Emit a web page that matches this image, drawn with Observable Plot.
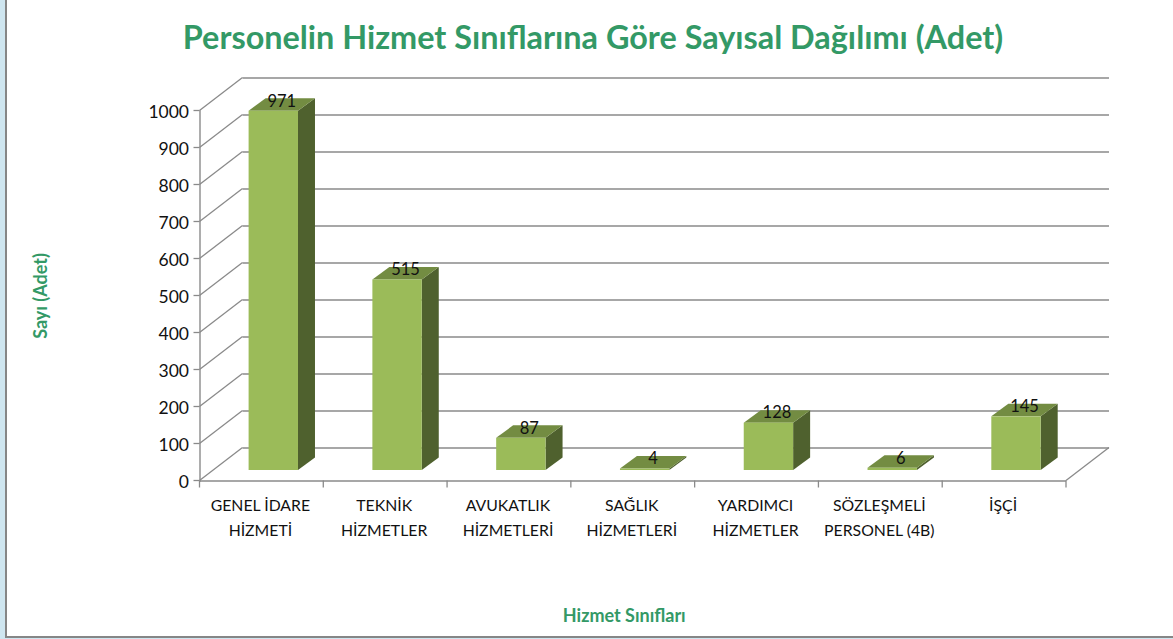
<!DOCTYPE html>
<html lang="tr">
<head>
<meta charset="utf-8">
<script src="https://cdn.jsdelivr.net/npm/d3@7"></script>
<script src="https://cdn.jsdelivr.net/npm/@observablehq/plot@0.6"></script>
<style>
html,body{margin:0;padding:0;background:#fff;width:1173px;height:639px;overflow:hidden;font-family:Lato,sans-serif}
#title{height:72px;line-height:74px;width:1173px;text-align:center;box-sizing:border-box;padding-left:13px;font-size:32.4px;font-weight:700;color:#339966;white-space:nowrap}
#chart svg{display:block}
.edge{position:absolute;background:#cfe6f0}
.rim{position:absolute;background:#868686}
</style>
</head>
<body>
<div id="title">Personelin Hizmet Sınıflarına Göre Sayısal Dağılımı (Adet)</div>
<div id="chart"></div>
<div class="edge" style="left:0;top:0;width:5px;height:639px"></div>
<div class="rim" style="left:5px;top:0;width:1.5px;height:638px"></div>
<div class="rim" style="left:5px;top:636px;width:1168px;height:2px"></div>
<div class="edge" style="left:0;top:638px;width:1173px;height:1px"></div>
<script>
const categories = ["GENEL İDARE","TEKNİK","AVUKATLIK","SAĞLIK","YARDIMCI","SÖZLEŞMELİ","İŞÇİ"];
const tickLabels = ["GENEL İDARE\nHİZMETİ","TEKNİK\nHİZMETLER","AVUKATLIK\nHİZMETLERİ","SAĞLIK\nHİZMETLERİ","YARDIMCI\nHİZMETLER","SÖZLEŞMELİ\nPERSONEL (4B)","İŞÇİ"];
const values = [971,515,87,4,128,6,145];
const yTicks = [0,100,200,300,400,500,600,700,800,900,1000];
const data = categories.map((c,i)=>({c,v:values[i]}));

const green="#339966", grid="#8a8a8a";
const wallDx=43, wallDy=-33;
const barDx=11.9, barDy=-10.5, barInset=37.2, sideDx=17, sideDy=-12.5;
const bandOf=x=>typeof x.bandwidth==="function"?x.bandwidth():x.bandwidth;

function poly(g,pts,fill){
  g.append("polygon").attr("points",pts.map(p=>p.join(",")).join(" ")).attr("fill",fill);
}
// oblique wall lines and axis ticks, positioned from the scales
function walls(index,{x,y}){
  const g=d3.create("svg:g").attr("stroke",grid).attr("stroke-width",1.3).attr("fill","none");
  const x0=x(categories[0]), bw=bandOf(x), x1=x(categories[categories.length-1])+bw;
  for(const t of yTicks){
    g.append("line").attr("x1",x0).attr("x2",x0+wallDx).attr("y1",y(t)).attr("y2",y(t)+wallDy);
    g.append("line").attr("x1",x0-6).attr("x2",x0).attr("y1",y(t)).attr("y2",y(t));
  }
  g.append("line").attr("x1",x1).attr("x2",x1+wallDx).attr("y1",y(0)).attr("y2",y(0)+wallDy);
  for(const c of categories){
    g.append("line").attr("x1",x(c)).attr("x2",x(c)).attr("y1",y(0)).attr("y2",y(0)+7);
  }
  g.append("line").attr("x1",x1).attr("x2",x1).attr("y1",y(0)).attr("y2",y(0)+7);
  return g.node();
}
// top and side faces of each bar
function faces(index,{x,y}){
  const g=d3.create("svg:g");
  const bw=bandOf(x);
  for(const d of data){
    const l=x(d.c)+barInset+barDx, r=x(d.c)+bw-barInset+barDx;
    const t=y(d.v)+barDy, b=y(0)+barDy;
    poly(g,[[r,t],[r+sideDx,t+sideDy],[r+sideDx,b+sideDy],[r,b]],"#4f612e");
    poly(g,[[l,t],[l+sideDx,t+sideDy],[r+sideDx,t+sideDy],[r,t]],"#738c42");
  }
  return g.node();
}

const plot=Plot.plot({
  width:1173,height:567,
  marginLeft:199.5,marginRight:107,marginTop:38.5,marginBottom:158.5,
  style:{fontFamily:"Lato, sans-serif",background:"transparent",color:"#111"},
  x:{domain:categories,padding:0,round:false,label:null},
  y:{domain:[0,1000],label:null},
  marks:[
    Plot.ruleY(yTicks,{dx:wallDx,dy:wallDy,stroke:grid,strokeWidth:1.4}),
    walls,
    Plot.ruleY([0],{stroke:grid,strokeWidth:1.4}),
    Plot.frame({anchor:"left",stroke:grid,strokeWidth:1.4}),
    Plot.axisY({ticks:yTicks,tickSize:0,tickPadding:11,dy:1,fill:"#111",fontSize:17.5,label:null,tickFormat:d=>String(d)}),
    Plot.axisX({tickSize:0,tickPadding:12,dx:-1.5,fontSize:15.8,lineHeight:1.6,lineAnchor:"top",fill:"#111",label:null,
      tickFormat:(d)=>tickLabels[categories.indexOf(d)]}),
    faces,
    Plot.barY(data,{x:"c",y:"v",dx:barDx,dy:barDy,insetLeft:barInset,insetRight:barInset,fill:"#9bbb59"}),
    Plot.text(data,{x:"c",y:"v",text:"v",dx:barDx+sideDx/2-0.5,dy:-20.5,fontSize:16.5,fill:"#111"}),
    Plot.text(["Sayı (Adet)"],{frameAnchor:"left",textAnchor:"middle",dx:-158.5,rotate:-90,fontSize:18,fontWeight:700,fill:green}),
    Plot.text(["Hizmet Sınıfları"],{frameAnchor:"bottom",dx:-9,dy:141,fontSize:18,fontWeight:700,fill:green})
  ]
});
document.getElementById("chart").append(plot);
</script>
</body>
</html>
